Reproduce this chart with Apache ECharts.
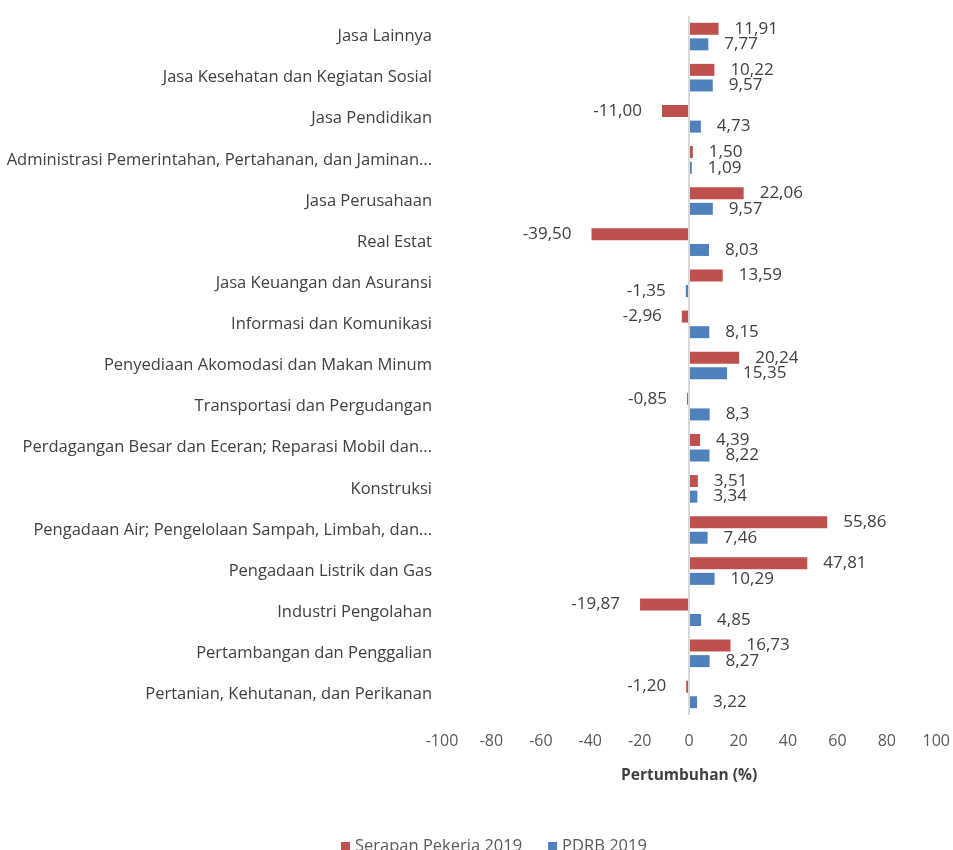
<!DOCTYPE html>
<html>
<head>
<meta charset="utf-8">
<script src="https://cdn.jsdelivr.net/npm/echarts@6/dist/echarts.min.js"></script>
<style>
	html, body { margin: 0; padding: 0; background: #fff; }
	#main { width: 953px; height: 850px; }
</style>
</head>
<body>
<div id="main"></div>
<script>
	//kategori, urut dari atas ke bawah
	var kategori = [
		'Jasa Lainnya',
		'Jasa Kesehatan dan Kegiatan Sosial',
		'Jasa Pendidikan',
		'Administrasi Pemerintahan, Pertahanan, dan Jaminan...',
		'Jasa Perusahaan',
		'Real Estat',
		'Jasa Keuangan dan Asuransi',
		'Informasi dan Komunikasi',
		'Penyediaan Akomodasi dan Makan Minum',
		'Transportasi dan Pergudangan',
		'Perdagangan Besar dan Eceran; Reparasi Mobil dan...',
		'Konstruksi',
		'Pengadaan Air; Pengelolaan Sampah, Limbah, dan...',
		'Pengadaan Listrik dan Gas',
		'Industri Pengolahan',
		'Pertambangan dan Penggalian',
		'Pertanian, Kehutanan, dan Perikanan'
	];
	//nilai ditulis seperti label aslinya
	var serapan = ['11.91', '10.22', '-11.00', '1.50', '22.06', '-39.50', '13.59', '-2.96', '20.24',
		'-0.85', '4.39', '3.51', '55.86', '47.81', '-19.87', '16.73', '-1.20'];
	var pdrb = ['7.77', '9.57', '4.73', '1.09', '9.57', '8.03', '-1.35', '8.15', '15.35',
		'8.3', '8.22', '3.34', '7.46', '10.29', '4.85', '8.27', '3.22'];
	var xTicks = [-100, 100, 20];

	var fontName = '"Open Sans", sans-serif';

	function buatData(arr) {
		var out = [];
		for(var i = 0; i < arr.length; i++) {
			var v = Number(arr[i]);
			out.push({
				value: v,
				label: {
					position: v < 0 ? 'left' : 'right',
					distance: v < 0 ? 20 : 16
				}
			});
		}
		return out;
	}

	function labelFmt(arr) {
		return function(p) {
			return arr[p.dataIndex].replace('.', ',');
		};
	}

	var chart = echarts.init(document.getElementById('main'));
	chart.setOption({
		animation: false,
		textStyle: { fontFamily: fontName },
		grid: { left: 442, right: 15, top: 16, bottom: 135, containLabel: false },
		legend: {
			top: 833,
			left: 336,
			itemWidth: 9,
			itemHeight: 9,
			itemGap: 26,
			icon: 'rect',
			textStyle: { fontSize: 16.5, color: '#595959', fontFamily: fontName },
			data: ['Serapan Pekerja 2019', 'PDRB 2019']
		},
		xAxis: {
			type: 'value',
			min: xTicks[0],
			max: xTicks[1],
			interval: xTicks[2],
			axisLine: { show: false },
			axisTick: { show: false },
			splitLine: { show: false },
			axisLabel: { fontSize: 16, color: '#595959', margin: 18 },
			name: 'Pertumbuhan (%)',
			nameLocation: 'middle',
			nameGap: 53,
			nameTextStyle: { fontSize: 15.5, fontWeight: 'bold', color: '#404040' }
		},
		yAxis: {
			type: 'category',
			inverse: true,
			data: kategori,
			axisLine: { show: false, onZero: false },
			axisTick: { show: false },
			axisLabel: { fontSize: 16.5, color: '#404040', margin: 10 }
		},
		series: [
			{
				name: 'Serapan Pekerja 2019',
				type: 'bar',
				data: buatData(serapan),
				barWidth: 12,
				barGap: '30%',
				itemStyle: { color: '#C0504D' },
				label: { show: true, fontSize: 17, color: '#404040', formatter: labelFmt(serapan) },
				markLine: {
					silent: true,
					symbol: 'none',
					label: { show: false },
					lineStyle: { color: '#D9D9D9', type: 'solid', width: 2 },
					data: [{ xAxis: 0 }]
				}
			},
			{
				name: 'PDRB 2019',
				type: 'bar',
				data: buatData(pdrb),
				barWidth: 12,
				barGap: '30%',
				itemStyle: { color: '#4F81BD' },
				label: { show: true, fontSize: 17, color: '#404040', formatter: labelFmt(pdrb) }
			}
		]
	});
</script>
</body>
</html>
